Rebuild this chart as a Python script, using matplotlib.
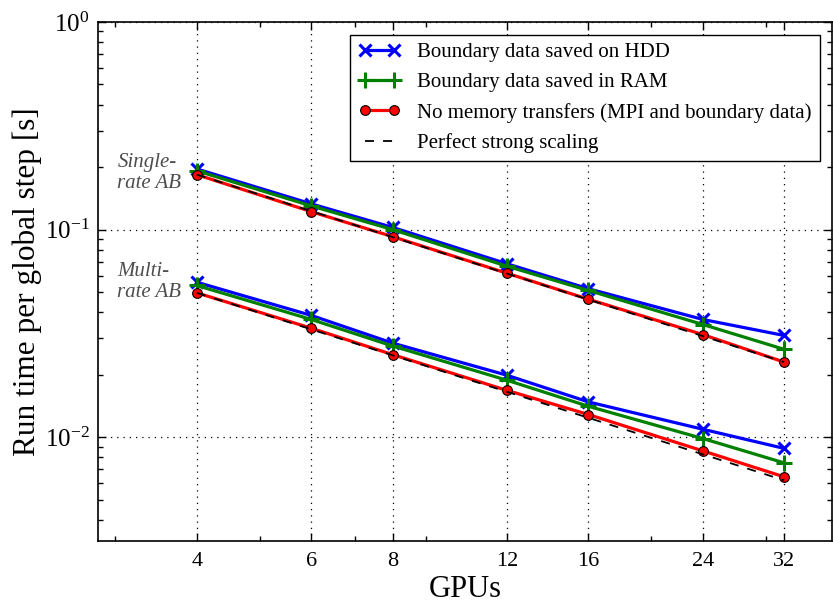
import matplotlib
matplotlib.use("Agg")
import matplotlib.pyplot as plt
from matplotlib.ticker import FixedLocator, FixedFormatter, LogLocator, NullFormatter

plt.rcParams['font.family'] = ['Liberation Serif', 'DejaVu Serif']
plt.rcParams['mathtext.fontset'] = 'custom'
plt.rcParams['mathtext.rm'] = 'Liberation Serif'
plt.rcParams['mathtext.it'] = 'Liberation Serif:italic'

gpus = [4, 6, 8, 12, 16, 24, 32]
tick_labels = ['4', '6', '8', '12', '16', '24', '32']

single_hdd = [0.196, 0.133, 0.1025, 0.0684, 0.0519, 0.0369, 0.0309]
single_ram = [0.192, 0.130, 0.100, 0.0666, 0.0509, 0.0349, 0.0265]
single_none = [0.184, 0.122, 0.0925, 0.0616, 0.0462, 0.0312, 0.0230]

multi_hdd = [0.0558, 0.0386, 0.0284, 0.01987, 0.01479, 0.01092, 0.00883]
multi_ram = [0.0538, 0.0369, 0.0275, 0.0188, 0.01409, 0.00985, 0.00752]
multi_none = [0.0496, 0.0335, 0.0250, 0.0168, 0.01286, 0.00859, 0.00644]

labels = ['Boundary data saved on HDD', 'Boundary data saved in RAM',
          'No memory transfers (MPI and boundary data)', 'Perfect strong scaling']

fig = plt.figure(figsize=(8.33, 6.09), dpi=100)
ax = fig.add_axes([98/833, 1-541/609, (832-98)/833, (541-22)/609])

lw = 2.3
for hdd, ram, none, first in [(single_hdd, single_ram, single_none, True),
                              (multi_hdd, multi_ram, multi_none, False)]:
    ax.plot(gpus, hdd, color='#0000ff', lw=lw, marker='x', ms=9, mew=2.2,
            label=labels[0] if first else None)
    ax.plot(gpus, ram, color='#008000', lw=lw, marker='+', ms=11, mew=2.2,
            label=labels[1] if first else None)
    ax.plot(gpus, none, color='#ff0000', lw=lw, marker='o', ms=7, mec='black',
            mew=0.8, label=labels[2] if first else None)
    perfect = [none[0] * gpus[0] / g for g in gpus]
    ax.plot(gpus, perfect, color='black', lw=1.3, ls=(0, (5, 5)),
            label=labels[3] if first else None)

ax.set_xscale('log')
ax.set_yscale('log')
ax.set_xlim(2.82, 37.9)
ax.set_ylim(10**-2.5, 1)

ax.xaxis.set_major_locator(FixedLocator(gpus))
ax.xaxis.set_major_formatter(FixedFormatter(tick_labels))
ax.xaxis.set_minor_locator(LogLocator(base=10, subs=[2, 3, 5, 7, 9]))
ax.xaxis.set_minor_formatter(NullFormatter())
ax.yaxis.set_major_locator(LogLocator(base=10, numticks=10))
ax.yaxis.set_minor_locator(LogLocator(base=10, subs=range(2, 10), numticks=10))
ax.yaxis.set_minor_formatter(NullFormatter())

ax.tick_params(which='both', direction='in', top=True, right=True)
ax.tick_params(axis='x', labelsize=16, pad=8)
ax.tick_params(axis='y', labelsize=18, pad=6)
ax.tick_params(which='major', length=6, width=1)
ax.tick_params(which='minor', length=3.5, width=1)

ax.grid(True, which='major', ls=(0, (1, 4)), color='black', lw=0.9)

for sp in ax.spines.values():
    sp.set_linewidth(1.2)

ax.set_xlabel('GPUs', fontsize=22, labelpad=3)
ax.set_ylabel('Run time per global step [s]', fontsize=22.5, labelpad=2)

ax.text(3.02, 0.233, 'Single-\nrate AB', fontfamily='Liberation Serif',
        fontstyle='italic', fontsize=15,
        color='#4d4d4d', ha='left', va='top', linespacing=1.1)
ax.text(3.02, 0.0697, 'Multi-\nrate AB', fontfamily='Liberation Serif',
        fontstyle='italic', fontsize=15,
        color='#4d4d4d', ha='left', va='top', linespacing=1.1)

leg = ax.legend(loc='upper right', fontsize=15, fancybox=False, framealpha=1,
                edgecolor='black', borderaxespad=0.6, numpoints=2)
leg.get_frame().set_linewidth(1.0)

fig.savefig('out.png', dpi=100)
